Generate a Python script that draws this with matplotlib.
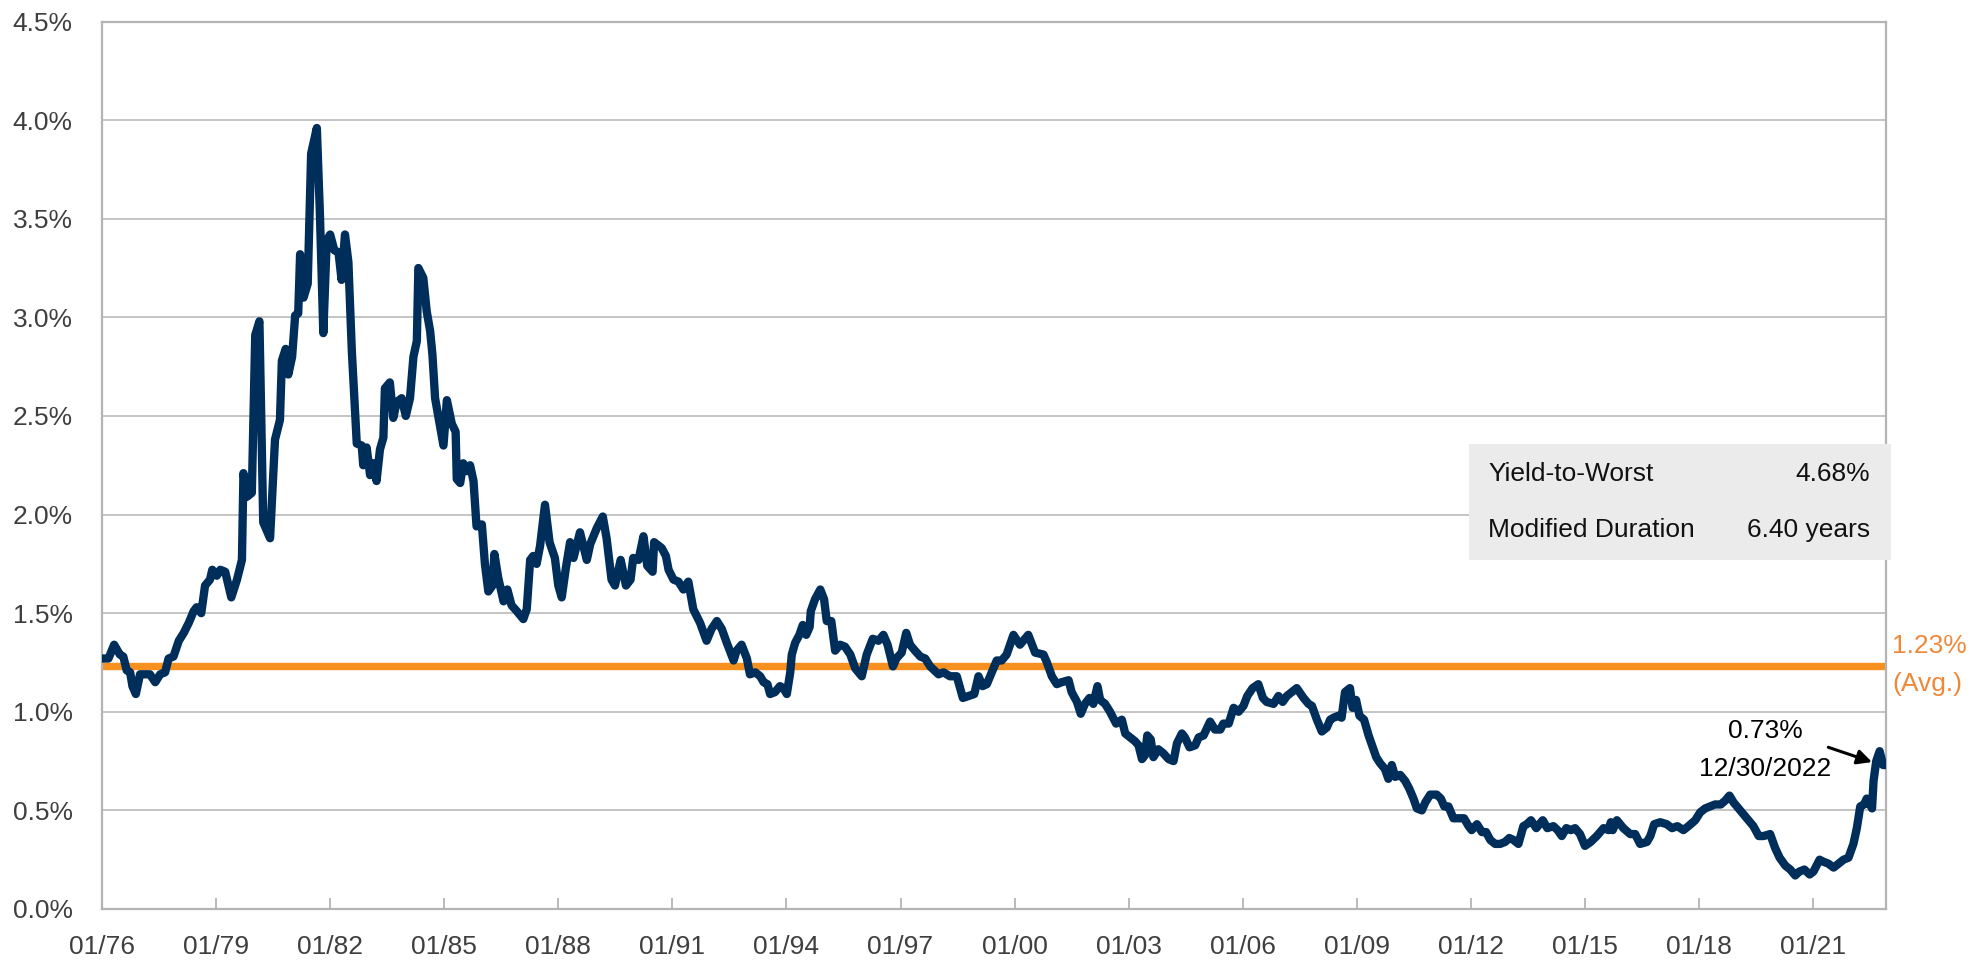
import matplotlib
matplotlib.use("Agg")
import matplotlib.pyplot as plt
from matplotlib.patches import Rectangle
import numpy as np

plt.rcParams['font.family'] = ['Liberation Sans', 'DejaVu Sans']

# ---- data (decimal year, yield %) ----
years = [
    1976.00, 1976.17, 1976.32, 1976.47, 1976.56, 1976.65, 1976.74, 1976.80, 1976.89, 1977.00,
    1977.13, 1977.26, 1977.40, 1977.53, 1977.66, 1977.75, 1977.88, 1978.02, 1978.15, 1978.28,
    1978.41, 1978.49, 1978.61, 1978.71, 1978.84, 1978.90, 1979.02, 1979.11, 1979.24, 1979.40,
    1979.55, 1979.68, 1979.72, 1979.81, 1979.94, 1980.03, 1980.14, 1980.24, 1980.42, 1980.55,
    1980.68, 1980.73, 1980.83, 1980.90, 1981.00, 1981.08, 1981.16, 1981.21, 1981.30, 1981.41,
    1981.50, 1981.65, 1981.73, 1981.82, 1981.91, 1982.00, 1982.11, 1982.22, 1982.30, 1982.39,
    1982.48, 1982.57, 1982.70, 1982.83, 1982.87, 1982.96, 1983.05, 1983.14, 1983.22, 1983.31,
    1983.40, 1983.44, 1983.57, 1983.66, 1983.75, 1983.88, 1983.99, 1984.10, 1984.19, 1984.28,
    1984.32, 1984.45, 1984.54, 1984.63, 1984.69, 1984.76, 1984.86, 1984.98, 1985.07, 1985.20,
    1985.30, 1985.33, 1985.42, 1985.50, 1985.59, 1985.68, 1985.77, 1985.85, 1985.99, 1986.07,
    1986.16, 1986.27, 1986.32, 1986.42, 1986.56, 1986.66, 1986.77, 1986.91, 1987.08, 1987.17,
    1987.26, 1987.34, 1987.43, 1987.52, 1987.65, 1987.77, 1987.91, 1988.00, 1988.09, 1988.20,
    1988.31, 1988.40, 1988.57, 1988.75, 1988.84, 1989.01, 1989.17, 1989.27, 1989.40, 1989.49,
    1989.64, 1989.78, 1989.90, 1989.97, 1990.11, 1990.24, 1990.34, 1990.48, 1990.52, 1990.72,
    1990.83, 1990.90, 1991.03, 1991.16, 1991.29, 1991.42, 1991.55, 1991.73, 1991.90, 1992.03,
    1992.17, 1992.30, 1992.43, 1992.61, 1992.69, 1992.82, 1992.96, 1993.04, 1993.18, 1993.31,
    1993.40, 1993.50, 1993.57, 1993.70, 1993.83, 1993.92, 1994.01, 1994.10, 1994.14, 1994.23,
    1994.34, 1994.43, 1994.52, 1994.61, 1994.64, 1994.75, 1994.89, 1994.99, 1995.06, 1995.18,
    1995.28, 1995.41, 1995.54, 1995.68, 1995.81, 1995.98, 1996.11, 1996.27, 1996.42, 1996.55,
    1996.66, 1996.80, 1996.89, 1997.03, 1997.15, 1997.25, 1997.38, 1997.52, 1997.65, 1997.78,
    1998.00, 1998.13, 1998.30, 1998.48, 1998.64, 1998.79, 1998.94, 1999.05, 1999.16, 1999.27,
    1999.40, 1999.53, 1999.66, 1999.79, 1999.97, 2000.14, 2000.36, 2000.54, 2000.76, 2000.85,
    2000.98, 2001.11, 2001.24, 2001.42, 2001.50, 2001.64, 2001.74, 2001.85, 2001.97, 2002.07,
    2002.18, 2002.25, 2002.38, 2002.51, 2002.67, 2002.82, 2002.91, 2003.04, 2003.17, 2003.26,
    2003.35, 2003.43, 2003.49, 2003.58, 2003.65, 2003.78, 2003.91, 2004.05, 2004.18, 2004.27,
    2004.40, 2004.48, 2004.60, 2004.75, 2004.84, 2004.97, 2005.14, 2005.27, 2005.41, 2005.49,
    2005.63, 2005.76, 2005.89, 2006.02, 2006.12, 2006.26, 2006.41, 2006.53, 2006.63, 2006.81,
    2006.94, 2007.05, 2007.16, 2007.29, 2007.42, 2007.60, 2007.73, 2007.82, 2007.95, 2008.08,
    2008.21, 2008.30, 2008.39, 2008.52, 2008.60, 2008.69, 2008.82, 2008.89, 2008.98, 2009.07,
    2009.19, 2009.31, 2009.42, 2009.51, 2009.61, 2009.74, 2009.83, 2009.92, 2010.01, 2010.14,
    2010.27, 2010.38, 2010.49, 2010.58, 2010.71, 2010.80, 2010.93, 2011.10, 2011.21, 2011.30,
    2011.41, 2011.54, 2011.67, 2011.82, 2011.94, 2012.02, 2012.16, 2012.29, 2012.40, 2012.51,
    2012.64, 2012.77, 2012.90, 2013.01, 2013.12, 2013.25, 2013.38, 2013.47, 2013.58, 2013.72,
    2013.89, 2014.01, 2014.17, 2014.28, 2014.39, 2014.51, 2014.63, 2014.74, 2014.87, 2015.00,
    2015.15, 2015.31, 2015.49, 2015.62, 2015.68, 2015.73, 2015.84, 2016.01, 2016.19, 2016.32,
    2016.45, 2016.63, 2016.72, 2016.82, 2016.98, 2017.15, 2017.29, 2017.43, 2017.59, 2017.72,
    2017.90, 2018.03, 2018.16, 2018.29, 2018.42, 2018.57, 2018.69, 2018.80, 2018.91, 2019.04,
    2019.17, 2019.30, 2019.43, 2019.57, 2019.70, 2019.87, 2020.00, 2020.12, 2020.27, 2020.40,
    2020.53, 2020.64, 2020.77, 2020.91, 2021.01, 2021.17, 2021.27, 2021.40, 2021.54, 2021.67,
    2021.80, 2021.93, 2022.06, 2022.15, 2022.24, 2022.34, 2022.41, 2022.55, 2022.59, 2022.66,
    2022.75, 2022.84, 2022.917,
]
yields = [
    1.27, 1.27, 1.34, 1.29, 1.28, 1.21, 1.20, 1.13, 1.09, 1.19,
    1.19, 1.19, 1.15, 1.19, 1.20, 1.27, 1.28, 1.36, 1.40, 1.45,
    1.51, 1.53, 1.50, 1.64, 1.67, 1.72, 1.69, 1.72, 1.71, 1.58,
    1.67, 1.77, 2.21, 2.09, 2.11, 2.91, 2.98, 1.96, 1.88, 2.38,
    2.48, 2.78, 2.84, 2.71, 2.80, 3.01, 3.02, 3.32, 3.10, 3.17,
    3.83, 3.96, 3.53, 2.92, 3.39, 3.42, 3.34, 3.33, 3.19, 3.42,
    3.28, 2.83, 2.36, 2.35, 2.25, 2.34, 2.20, 2.26, 2.17, 2.33,
    2.39, 2.64, 2.67, 2.49, 2.57, 2.59, 2.50, 2.59, 2.80, 2.88,
    3.25, 3.20, 3.03, 2.93, 2.81, 2.59, 2.48, 2.35, 2.58, 2.46,
    2.42, 2.18, 2.16, 2.26, 2.22, 2.25, 2.17, 1.94, 1.95, 1.75,
    1.61, 1.64, 1.80, 1.68, 1.56, 1.62, 1.54, 1.51, 1.47, 1.52,
    1.77, 1.79, 1.75, 1.84, 2.05, 1.86, 1.78, 1.64, 1.58, 1.73,
    1.86, 1.78, 1.91, 1.77, 1.85, 1.93, 1.99, 1.88, 1.67, 1.64,
    1.77, 1.64, 1.67, 1.78, 1.77, 1.89, 1.74, 1.71, 1.86, 1.83,
    1.79, 1.72, 1.67, 1.66, 1.62, 1.66, 1.52, 1.45, 1.36, 1.42,
    1.46, 1.42, 1.35, 1.26, 1.31, 1.34, 1.27, 1.19, 1.20, 1.18,
    1.15, 1.14, 1.09, 1.10, 1.13, 1.12, 1.09, 1.20, 1.29, 1.35,
    1.39, 1.44, 1.39, 1.43, 1.51, 1.57, 1.62, 1.57, 1.46, 1.46,
    1.31, 1.34, 1.33, 1.29, 1.22, 1.18, 1.29, 1.37, 1.36, 1.39,
    1.34, 1.23, 1.27, 1.30, 1.40, 1.34, 1.31, 1.28, 1.27, 1.23,
    1.19, 1.20, 1.18, 1.18, 1.07, 1.08, 1.09, 1.18, 1.13, 1.14,
    1.20, 1.26, 1.26, 1.29, 1.39, 1.34, 1.39, 1.30, 1.29, 1.25,
    1.18, 1.14, 1.15, 1.16, 1.10, 1.05, 0.99, 1.04, 1.07, 1.04,
    1.13, 1.06, 1.04, 1.00, 0.94, 0.96, 0.89, 0.87, 0.85, 0.83,
    0.76, 0.78, 0.88, 0.86, 0.77, 0.81, 0.79, 0.76, 0.75, 0.84,
    0.89, 0.87, 0.82, 0.83, 0.87, 0.88, 0.95, 0.91, 0.91, 0.94,
    0.94, 1.02, 1.00, 1.03, 1.08, 1.12, 1.14, 1.07, 1.05, 1.04,
    1.08, 1.05, 1.08, 1.10, 1.12, 1.07, 1.04, 1.03, 0.96, 0.90,
    0.92, 0.96, 0.97, 0.98, 0.97, 1.10, 1.12, 1.02, 1.06, 0.98,
    0.96, 0.88, 0.82, 0.77, 0.74, 0.71, 0.66, 0.73, 0.67, 0.68,
    0.65, 0.61, 0.56, 0.51, 0.50, 0.54, 0.58, 0.58, 0.56, 0.52,
    0.52, 0.46, 0.46, 0.46, 0.42, 0.40, 0.43, 0.39, 0.39, 0.35,
    0.33, 0.33, 0.34, 0.36, 0.35, 0.33, 0.42, 0.43, 0.45, 0.41,
    0.45, 0.41, 0.42, 0.40, 0.37, 0.41, 0.40, 0.41, 0.38, 0.32,
    0.34, 0.37, 0.41, 0.40, 0.44, 0.40, 0.45, 0.41, 0.38, 0.38,
    0.33, 0.34, 0.37, 0.43, 0.44, 0.43, 0.41, 0.42, 0.40, 0.42,
    0.45, 0.49, 0.51, 0.52, 0.53, 0.53, 0.55, 0.575, 0.54, 0.51,
    0.48, 0.45, 0.42, 0.37, 0.37, 0.38, 0.31, 0.26, 0.22, 0.20,
    0.17, 0.19, 0.20, 0.175, 0.19, 0.25, 0.24, 0.23, 0.21, 0.23,
    0.25, 0.26, 0.33, 0.41, 0.52, 0.53, 0.56, 0.51, 0.65, 0.75,
    0.80, 0.73, 0.73,
]

avg_yield = 1.23
tick_years = list(range(1976, 2022, 3))
tick_labels = ["01/%02d" % (y % 100) for y in tick_years]
y_ticks = [0.0, 0.5, 1.0, 1.5, 2.0, 2.5, 3.0, 3.5, 4.0, 4.5]
y_tick_labels = ["%.1f%%" % v for v in y_ticks]
table_rows = [("Yield-to-Worst", "4.68%"), ("Modified Duration", "6.40 years")]
last_label = ["0.73%", "12/30/2022"]

NAVY = "#002E5A"
ORANGE = "#F7901E"
ORANGE_TXT = "#F0883A"
GRID = "#BFBFBF"
TXT = "#3F3F3F"
FS = 19

fig = plt.figure(figsize=(19.81, 9.60), dpi=100)
ax = fig.add_axes([102/1981, 1 - 909/960, (1886-102)/1981, (909-21.5)/960])

ax.set_xlim(1976, 2022.917)
ax.set_ylim(0, 4.5)

ax.set_yticks(y_ticks)
ax.set_yticklabels(y_tick_labels)
ax.set_xticks(tick_years)
ax.set_xticklabels(tick_labels)

ax.yaxis.grid(True, color=GRID, linewidth=1.3)
ax.set_axisbelow(True)
for s in ax.spines.values():
    s.set_color("#B4B4B4")
    s.set_linewidth(1.6)

ax.tick_params(axis='y', length=0, pad=21, labelsize=FS, labelcolor=TXT)
ax.tick_params(axis='x', direction='in', length=8, width=1.3, color="#B4B4B4",
               pad=19, labelsize=FS, labelcolor=TXT)

ax.axhline(avg_yield, color=ORANGE, linewidth=5.3, zorder=2)
ax.plot(years, yields, color=NAVY, linewidth=6.0, solid_joinstyle='round',
        solid_capstyle='round', zorder=3)

# average label (right of the plot area)
xa = (1892 - 102) / (1886 - 102)
ax.text(xa, 1.334, "%.2f%%" % avg_yield, transform=ax.get_yaxis_transform(),
        color=ORANGE_TXT, fontsize=FS, ha='left', va='center')
ax.text(xa, 1.141, "(Avg.)", transform=ax.get_yaxis_transform(),
        color=ORANGE_TXT, fontsize=FS, ha='left', va='center')

# last value annotation
ax.text(2019.74, 0.90, last_label[0], fontsize=FS, ha='center', va='center', color='black')
ax.text(2019.74, 0.71, last_label[1], fontsize=FS, ha='center', va='center', color='black')
ax.annotate("", xy=(2022.55, 0.745), xytext=(2021.40, 0.82),
            arrowprops=dict(arrowstyle='-|>', color='black', lw=2.2, mutation_scale=22,
                            shrinkA=0, shrinkB=0))

# table box
fig.patches.append(Rectangle((1469/1981, 1 - 560/960), (1891-1469)/1981, 116/960,
                             transform=fig.transFigure, facecolor="#EBEBEB",
                             edgecolor='none', zorder=5))
row_y = [1 - 474/960, 1 - 530/960]
for (lab, val), yy in zip(table_rows, row_y):
    fig.text(1488/1981, yy, lab, fontsize=FS, ha='left', va='center', color='#111111', zorder=6)
    fig.text(1870/1981, yy, val, fontsize=FS, ha='right', va='center', color='#111111', zorder=6)

fig.savefig("out.png", dpi=100, facecolor='white')
